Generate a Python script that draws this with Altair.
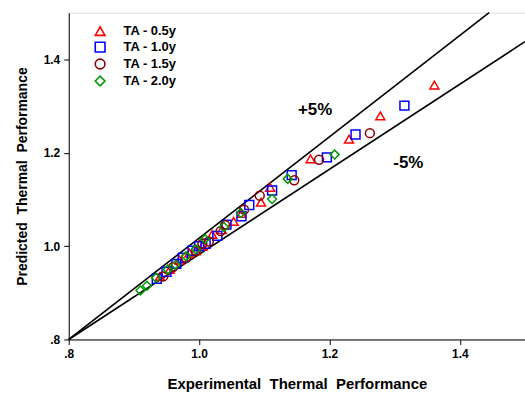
import altair as alt
import pandas as pd

series_names = ["TA - 0.5y", "TA - 1.0y", "TA - 1.5y", "TA - 2.0y"]
series_colors = ["#FF0000", "#0000FF", "#8B0000", "#009A00"]
series_shapes = ["triangle-up", "square", "circle", "diamond"]

ta05_x = [0.940, 0.955, 0.970, 0.985, 0.995, 1.005, 1.020, 1.035, 1.053, 1.065, 1.095, 1.109, 1.171, 1.230, 1.278, 1.361]
ta05_y = [0.935, 0.950, 0.970, 0.985, 0.990, 1.000, 1.025, 1.035, 1.053, 1.070, 1.094, 1.126, 1.187, 1.229, 1.279, 1.345]

ta10_x = [0.935, 0.950, 0.965, 0.975, 0.990, 1.000, 1.010, 1.028, 1.042, 1.065, 1.077, 1.112, 1.142, 1.196, 1.240, 1.315]
ta10_y = [0.930, 0.945, 0.962, 0.975, 0.990, 1.000, 1.005, 1.022, 1.046, 1.064, 1.088, 1.119, 1.152, 1.190, 1.239, 1.301]

ta15_x = [0.945, 0.960, 0.980, 0.995, 1.005, 1.015, 1.033, 1.040, 1.069, 1.093, 1.146, 1.184, 1.262]
ta15_y = [0.935, 0.955, 0.975, 0.990, 1.005, 1.010, 1.032, 1.045, 1.078, 1.108, 1.141, 1.185, 1.242]

ta20_x = [0.910, 0.920, 0.934, 0.952, 0.964, 0.980, 0.995, 1.009, 1.038, 1.064, 1.112, 1.136, 1.208]
ta20_y = [0.905, 0.915, 0.932, 0.950, 0.960, 0.978, 0.993, 1.015, 1.041, 1.071, 1.101, 1.144, 1.196]

# bound lines (start at lower-left corner)
plus_x = [0.8, 1.445]
plus_y = [0.8, 1.5]
minus_x = [0.8, 1.5]
minus_y = [0.8, 1.438]

label_text = ["+5%", "-5%"]
label_x = [1.178, 1.321]
label_y = [1.292, 1.179]

tick_vals = [0.8, 1.0, 1.2, 1.4]

NB = "\u00a0"
x_title = f"Experimental{NB}{NB}Thermal{NB}{NB}Performance"
y_title = f"Predicted{NB}{NB}Thermal{NB}{NB}Performance"

rows = []
for name, xs, ys in zip(series_names, [ta05_x, ta10_x, ta15_x, ta20_x], [ta05_y, ta10_y, ta15_y, ta20_y]):
    for a, b in zip(xs, ys):
        rows.append({"series": name, "exp": a, "pred": b})
pts = pd.DataFrame(rows)

lines = pd.DataFrame(
    [{"line": "+5%", "exp": a, "pred": b, "o": i} for i, (a, b) in enumerate(zip(plus_x, plus_y))]
    + [{"line": "-5%", "exp": a, "pred": b, "o": i} for i, (a, b) in enumerate(zip(minus_x, minus_y))]
)
labels = pd.DataFrame({"t": label_text, "exp": label_x, "pred": label_y})

label_expr = "datum.value < 0.9 ? '.8' : format(datum.value, '.1f')"
font = "Liberation Sans"

xscale = alt.Scale(domain=[0.8, 1.5], nice=False, zero=False)
yscale = alt.Scale(domain=[0.8, 1.5], nice=False, zero=False)

xaxis = alt.Axis(values=tick_vals, labelExpr=label_expr, title=x_title,
                 grid=False, domainColor="black", tickColor="black", tickSize=5, labelFont=font,
                 labelFontSize=12, labelFontWeight="bold", labelColor="black", titleFont=font,
                 titleFontSize=15, titleFontWeight="bold", titleColor="black", titlePadding=17,
                 labelPadding=4, labelFlush=False)
yaxis = alt.Axis(values=tick_vals, labelExpr=label_expr, title=y_title,
                 grid=False, domainColor="black", tickColor="black", tickSize=5, labelFont=font,
                 labelFontSize=12, labelFontWeight="bold", labelColor="black", titleFont=font,
                 titleFontSize=14, titleFontWeight="bold", titleColor="black", titlePadding=14,
                 labelPadding=4, labelFlush=False)

line_layer = alt.Chart(lines).mark_line(color="black", strokeWidth=1.6).encode(
    x=alt.X("exp:Q", scale=xscale, axis=xaxis),
    y=alt.Y("pred:Q", scale=yscale, axis=yaxis),
    detail="line:N",
    order="o:Q",
)

point_layer = alt.Chart(pts).mark_point(filled=False, strokeWidth=1.5, size=80, opacity=1).encode(
    x=alt.X("exp:Q", scale=xscale),
    y=alt.Y("pred:Q", scale=yscale),
    color=alt.Color("series:N", scale=alt.Scale(domain=series_names, range=series_colors),
                    legend=alt.Legend(title=None, orient="none", legendX=25, legendY=12,
                                      labelFont=font, labelFontSize=13, labelFontWeight="bold",
                                      labelColor="black", symbolStrokeWidth=1.6, symbolSize=95,
                                      rowPadding=0, labelOffset=17, symbolFillColor="transparent")),
    shape=alt.Shape("series:N", scale=alt.Scale(domain=series_names, range=series_shapes)),
)

text_layer = alt.Chart(labels).mark_text(font=font, fontSize=17, fontWeight="bold", color="black").encode(
    x=alt.X("exp:Q", scale=xscale),
    y=alt.Y("pred:Q", scale=yscale),
    text="t:N",
)

chart = alt.layer(line_layer, point_layer, text_layer).properties(
    width=458, height=328,
    autosize=alt.AutoSizeParams(type="none"),
    padding={"left": 69, "top": 12, "right": 0, "bottom": 56},
).configure_view(stroke="black", strokeWidth=1.2).configure(background="white")

chart.save("out.html", embed_options={"renderer": "svg", "actions": False})
